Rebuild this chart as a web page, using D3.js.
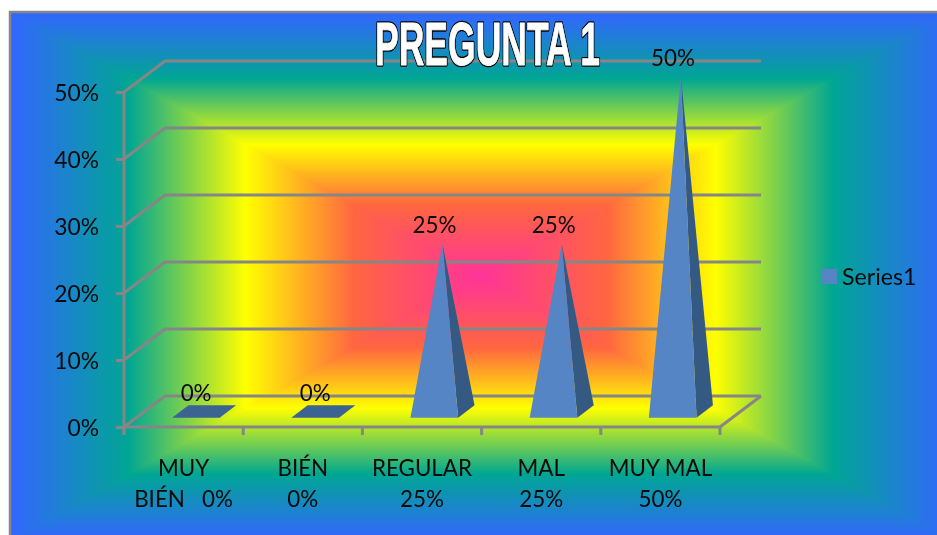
<!DOCTYPE html>
<html>
<head>
<meta charset="utf-8">
<script src="https://cdn.jsdelivr.net/npm/d3@7"></script>
<style>
  html, body { margin: 0; padding: 0; background: #fff; }
  #wrap { position: relative; width: 937px; height: 535px; overflow: hidden; }
  canvas, svg { position: absolute; left: 0; top: 0; }
  text { font-family: Lato, "Open Sans", sans-serif; fill: #0a0a0a; }
</style>
</head>
<body>
<div id="wrap"><canvas id="bg" width="937" height="535"></canvas><svg id="chart" width="937" height="535"></svg></div>
<script>
// Survey results for question 1
const categories = ["MUY BIÉN", "BIÉN", "REGULAR", "MAL", "MUY MAL"];
const values = [0, 0, 25, 25, 50];
const categoryLines = [["MUY", "BIÉN   0%"], ["BIÉN", "0%"], ["REGULAR", "25%"], ["MAL", "25%"], ["MUY MAL", "50%"]];
const yTicks = [0, 10, 20, 30, 40, 50];
const seriesName = "Series1";
const chartTitle = "PREGUNTA 1";

const gridColor = "#868686";
const frontColor = "#5585c4";
const sideColor = "#345a84";
const flatColor = "#3c6492";

// Rectangular "path" gradient behind the chart; its far edges run past the page
const frame = { x0: 11, y0: 13, x1: 950, y1: 540 };
const color = d3.scaleLinear()
  .domain([0, 0.27, 0.5, 0.75, 1])
  .range(["#ff3399", "#ff6640", "#ffff00", "#00a693", "#3366ff"])
  .clamp(true);
const cx = (frame.x0 + frame.x1) / 2, cy = (frame.y0 + frame.y1) / 2;
const hw = (frame.x1 - frame.x0) / 2, hh = (frame.y1 - frame.y0) / 2;
const ctx = document.getElementById("bg").getContext("2d");
ctx.fillStyle = "#fff";
ctx.fillRect(0, 0, 937, 535);
for (let py = frame.y0; py < 535; py++) {
  for (let px = frame.x0; px < 937; px++) {
    const t = Math.max(Math.abs(px + 0.5 - cx) / hw, Math.abs(py + 0.5 - cy) / hh);
    ctx.fillStyle = color(t);
    ctx.fillRect(px, py, 1, 1);
  }
}

const svg = d3.select("#chart");

// Outer frame
svg.append("path")
  .attr("d", `M${frame.x0 - 1},535V${frame.y0 - 1}H937`)
  .attr("fill", "none").attr("stroke", gridColor).attr("stroke-width", 2.5);

// Scales: x is the front edge of the floor, y the front edge of the wall
const x = d3.scaleBand().domain(categories).range([124, 720]);
const y = d3.scaleLinear().domain([0, 50]).range([427, 92]);
const depth = { dx: 41, dy: -31 };
const lineWidth = 3;

// Project a point given in chart space with a depth fraction (0 front, 1 back)
const project = (px, v, d) => [px + d * depth.dx, y(v) + d * depth.dy];
const linePath = d3.line();

// Gridlines along the back wall and the left side wall
const grid = svg.append("g").attr("fill", "none").attr("stroke", gridColor).attr("stroke-width", lineWidth);
yTicks.forEach(t => {
  grid.append("path").attr("d", linePath([
    project(x.range()[0], t, 0),
    project(x.range()[0], t, 1),
    project(x.range()[1], t, 1)
  ]));
});

// Right edge of the floor
grid.append("path").attr("d", linePath([project(x.range()[1], 0, 0), project(x.range()[1], 0, 1)]));

// Value axis
const yAxis = svg.append("g").attr("transform", `translate(${x.range()[0]},0)`)
  .call(d3.axisLeft(y).tickValues(yTicks).tickFormat(d => d + "%").tickSize(8).tickPadding(17));
yAxis.select(".domain").attr("stroke", gridColor).attr("stroke-width", lineWidth).attr("d", `M0,${y(50)}V${y(0) + 8}`);
yAxis.selectAll(".tick line").attr("stroke", gridColor).attr("stroke-width", lineWidth);
yAxis.selectAll(".tick text").attr("font-size", 22.8).attr("font-family", "Lato").attr("dy", "0.38em").attr("fill", "#0a0a0a");

// Category axis: tick marks fall on the band boundaries, labels wrap onto two lines
const xAxis = svg.append("g").attr("transform", `translate(0,${y(0)})`)
  .call(d3.axisBottom(x).tickSize(0).tickPadding(0));
xAxis.select(".domain").attr("stroke", gridColor).attr("stroke-width", lineWidth).attr("d", `M${x.range()[0]},0H${x.range()[1]}`);
xAxis.selectAll(".tick text").each(function (d, i) {
  const label = d3.select(this).text(null).attr("y", 0).attr("dy", null)
    .attr("font-size", 22.4).attr("font-family", "Lato").attr("fill", "#0a0a0a");
  categoryLines[i].forEach((line, k) => {
    label.append("tspan").attr("x", 0).attr("y", 49 + k * 31).style("white-space", "pre").text(line);
  });
});
const boundaries = categories.map(c => x(c)).concat(x.range()[1]);
svg.append("g").selectAll("line").data(boundaries).join("line")
  .attr("x1", d => d).attr("x2", d => d)
  .attr("y1", y(0)).attr("y2", y(0) + 8)
  .attr("stroke", gridColor).attr("stroke-width", lineWidth);

// Pyramids: base sits at mid depth and tapers to an apex at the value
const gap = 1.5;
const baseWidth = x.step() / (1 + gap);
const baseDepth = 0.4;
const marks = svg.append("g");
categories.forEach((c, i) => {
  const mid = x(c) + x.bandwidth() / 2;
  const xl = mid - baseWidth / 2, xr = mid + baseWidth / 2;
  const dFront = 0.5 - baseDepth / 2, dBack = 0.5 + baseDepth / 2;
  const fl = project(xl, 0, dFront), fr = project(xr, 0, dFront);
  const br = project(xr, 0, dBack), bl = project(xl, 0, dBack);
  const apex = project(mid, values[i], 0.5);
  if (values[i] === 0) {
    marks.append("path").attr("d", linePath([fl, fr, br, bl]) + "Z").attr("fill", flatColor);
  } else {
    marks.append("path").attr("d", linePath([fr, br, apex]) + "Z").attr("fill", sideColor);
    marks.append("path").attr("d", linePath([fl, fr, apex]) + "Z").attr("fill", frontColor);
  }
});

// Data labels above each apex
svg.append("g").selectAll("text").data(categories).join("text")
  .attr("x", c => x(c) + x.bandwidth() / 2 + 12.5)
  .attr("y", (c, i) => y(values[i]) - 34)
  .attr("text-anchor", "middle")
  .attr("dy", "0.34em")
  .attr("font-size", 22.4)
  .text((c, i) => values[i] + "%");

// Legend
const legend = svg.append("g");
legend.append("rect").attr("x", 822).attr("y", 269).attr("width", 15).attr("height", 15).attr("fill", frontColor);
legend.append("text").attr("x", 842).attr("y", 277).attr("dy", "0.34em").attr("font-size", 23.2).text(seriesName);

// Title: heavy condensed white letters with a dark outline, built from stacked strokes
const titleLayer = (stroke, width) => svg.append("text")
  .attr("x", 375).attr("y", 65)
  .attr("textLength", 225).attr("lengthAdjust", "spacingAndGlyphs")
  .style("font-family", "'Liberation Sans Narrow', 'Liberation Sans', sans-serif")
  .style("font-weight", "bold").style("font-size", "62px")
  .style("fill", "#fff").style("stroke", stroke).style("stroke-width", width)
  .style("stroke-linejoin", "round")
  .text(chartTitle);
titleLayer("#000", 3.6);
titleLayer("#fff", 0.8);
</script>
</body>
</html>
